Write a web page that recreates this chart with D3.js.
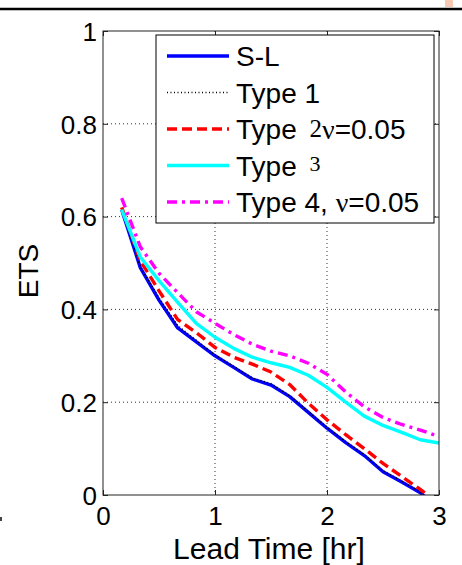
<!DOCTYPE html>
<html lang="en">
<head>
<meta charset="UTF-8">
<title>ETS vs lead time</title>
<script src="https://d3js.org/d3.v7.min.js"></script>
<style>
  body { margin: 0; background: #fff; }
  svg { display: block; font-family: "Liberation Sans", Arial, sans-serif; }
</style>
</head>
<body>
<script>

// data (lead time in hours, ETS score)
const leadTime = [0.167, 0.333, 0.5, 0.667, 0.833, 1.0, 1.167, 1.333, 1.5,
                  1.667, 1.833, 2.0, 2.167, 2.333, 2.5, 2.667, 2.833, 3.0];
const slValues    = [0.615, 0.490, 0.420, 0.360, 0.330, 0.300, 0.275, 0.250, 0.237,
                     0.212, 0.178, 0.144, 0.113, 0.085, 0.050, 0.028, 0.005, -0.030];
const type1Values = [0.618, 0.492, 0.425, 0.365, 0.333, 0.302, 0.277, 0.252, 0.240,
                     0.214, 0.180, 0.146, 0.115, 0.087, 0.052, 0.030, 0.007, -0.030];
const type2Values = [0.620, 0.505, 0.440, 0.378, 0.350, 0.318, 0.297, 0.282, 0.265,
                     0.238, 0.198, 0.162, 0.130, 0.100, 0.068, 0.040, 0.012, -0.020];
const type3Values = [0.615, 0.513, 0.462, 0.415, 0.370, 0.340, 0.316, 0.297, 0.285,
                     0.275, 0.258, 0.232, 0.200, 0.170, 0.150, 0.135, 0.119, 0.112];
const type4Values = [0.640, 0.535, 0.478, 0.436, 0.395, 0.370, 0.346, 0.325, 0.310,
                     0.300, 0.284, 0.260, 0.222, 0.190, 0.167, 0.152, 0.140, 0.126];

const xTicks = [0, 1, 2, 3];
const yTicks = [0, 0.2, 0.4, 0.6, 0.8, 1];
const yTickLabels = ['0', '0.2', '0.4', '0.6', '0.8', '1'];

// legend text pieces (serif pieces mimic the mixed fonts of the original)
const legendLabels = [
    [{ t: 'S-L' }],
    [{ t: 'Type 1' }],
    [{ t: 'Type ' }, { t: '2', serif: true, size: 25, dy: -2, dx: 5 }, { t: 'ν', serif: true, size: 28, dy: 2 }, { t: '=0.05' }],
    [{ t: 'Type ' }, { t: '3', serif: true, size: 22, dy: -5, dx: 5 }],
    [{ t: 'Type 4, ' }, { t: 'ν', serif: true, size: 28 }, { t: '=0.05' }]
];

const series = [
    { values: slValues,    color: '#0000ff', width: 3.4, dash: null },
    { values: type1Values, color: '#000000', width: 1.6, dash: '1,2.5' },
    { values: type2Values, color: '#ff0000', width: 3.4, dash: '10,5' },
    { values: type3Values, color: '#00ffff', width: 3.4, dash: null },
    { values: type4Values, color: '#ff00ff', width: 3.4, dash: '10,5,3,5' }
];

const width = 462, height = 565;
const margin = { top: 31, right: 23, bottom: 70, left: 103 };
const plotW = width - margin.left - margin.right;
const plotH = height - margin.top - margin.bottom;

const svg = d3.select('body').append('svg')
    .attr('width', width)
    .attr('height', height);

// bits of the page around the figure
svg.append('line')
    .attr('x1', 0).attr('x2', width).attr('y1', 9).attr('y2', 9)
    .style('stroke', '#000').style('stroke-width', 2.5);
svg.append('rect')
    .attr('x', 445).attr('y', 0).attr('width', 8).attr('height', 7)
    .style('fill', '#f8c9b2');
svg.append('rect')
    .attr('x', 0).attr('y', 517).attr('width', 2).attr('height', 4)
    .style('fill', '#444');

const x = d3.scaleLinear().domain([0, 3]).range([0, plotW]);
const y = d3.scaleLinear().domain([0, 1]).range([plotH, 0]);

const g = svg.append('g').attr('transform', `translate(${margin.left},${margin.top})`);

g.append('clipPath').attr('id', 'plot-clip')
    .append('rect').attr('width', plotW).attr('height', plotH);

// dotted grid
g.append('g')
    .selectAll('line')
    .data(xTicks.slice(1, -1))
    .enter()
    .append('line')
    .attr('x1', d => x(d)).attr('x2', d => x(d))
    .attr('y1', 0).attr('y2', plotH)
    .style('stroke', '#333').style('stroke-width', 1)
    .style('stroke-dasharray', '1,3');
g.append('g')
    .selectAll('line')
    .data(yTicks.slice(1, -1))
    .enter()
    .append('line')
    .attr('x1', 0).attr('x2', plotW)
    .attr('y1', d => y(d)).attr('y2', d => y(d))
    .style('stroke', '#333').style('stroke-width', 1)
    .style('stroke-dasharray', '1,3');

// curves
const line = d3.line()
    .x((d, i) => x(leadTime[i]))
    .y(d => y(d));

g.append('g')
    .attr('clip-path', 'url(#plot-clip)')
    .selectAll('path')
    .data(series)
    .enter()
    .append('path')
    .attr('d', d => line(d.values))
    .style('fill', 'none')
    .style('stroke', d => d.color)
    .style('stroke-width', d => d.width)
    .style('stroke-dasharray', d => d.dash)
    .style('stroke-linejoin', 'round');

// axes: ticks inside, on all four sides
const xAxis = d3.axisBottom(x).tickValues(xTicks).tickSize(-5).tickSizeOuter(0).tickFormat(d3.format('d'));
const yAxis = d3.axisLeft(y).tickValues(yTicks).tickSize(-5).tickSizeOuter(0).tickFormat((d, i) => yTickLabels[i]);

const gx = g.append('g').attr('transform', `translate(0,${plotH})`).call(xAxis);
gx.selectAll('text').attr('y', 12).style('font-size', '26px').style('fill', '#000');
const gy = g.append('g').call(yAxis);
gy.selectAll('text').attr('x', -6).attr('dy', '0.36em').style('font-size', '26px').style('fill', '#000');

g.append('g').call(d3.axisTop(x).tickValues(xTicks).tickSize(-5).tickSizeOuter(0).tickFormat(''));
g.append('g').attr('transform', `translate(${plotW},0)`)
    .call(d3.axisRight(y).tickValues(yTicks).tickSize(-5).tickSizeOuter(0).tickFormat(''));

g.selectAll('.domain').remove();
g.selectAll('.tick line').style('stroke', '#222');
g.append('rect')
    .attr('width', plotW).attr('height', plotH)
    .style('fill', 'none').style('stroke', '#222').style('stroke-width', 1);

// axis labels
svg.append('text')
    .attr('x', margin.left + plotW / 2 - 2)
    .attr('y', 559)
    .attr('text-anchor', 'middle')
    .style('font-size', '30px')
    .text('Lead Time [hr]');
svg.append('text')
    .attr('transform', `translate(38,${margin.top + plotH / 2 + 8}) rotate(-90)`)
    .attr('text-anchor', 'middle')
    .style('font-size', '28px')
    .text('ETS');

// legend
const legend = svg.append('g');
legend.append('rect')
    .attr('x', 156).attr('y', 35).attr('width', 278).attr('height', 188)
    .style('fill', '#fff').style('stroke', '#000').style('stroke-width', 1);

const rows = legend.selectAll('g.row')
    .data(series)
    .enter()
    .append('g')
    .attr('transform', (d, i) => `translate(0,${56 + i * 36.5})`);

rows.append('line')
    .attr('x1', 167).attr('x2', 229)
    .style('stroke', d => d.color)
    .style('stroke-width', d => d.width)
    .style('stroke-dasharray', d => d.dash);

rows.append('text')
    .attr('x', 236)
    .attr('y', 10)
    .style('font-size', '28px')
    .each(function (d, i) {
        const txt = d3.select(this);
        legendLabels[i].forEach(p => {
            txt.append('tspan')
                .attr('dx', p.dx || null)
                .attr('dy', p.dy || null)
                .style('font-family', p.serif ? '"Liberation Serif", "Times New Roman", serif' : null)
                .style('font-size', p.size ? p.size + 'px' : null)
                .text(p.t);
        });
    });

</script>
</body>
</html>
